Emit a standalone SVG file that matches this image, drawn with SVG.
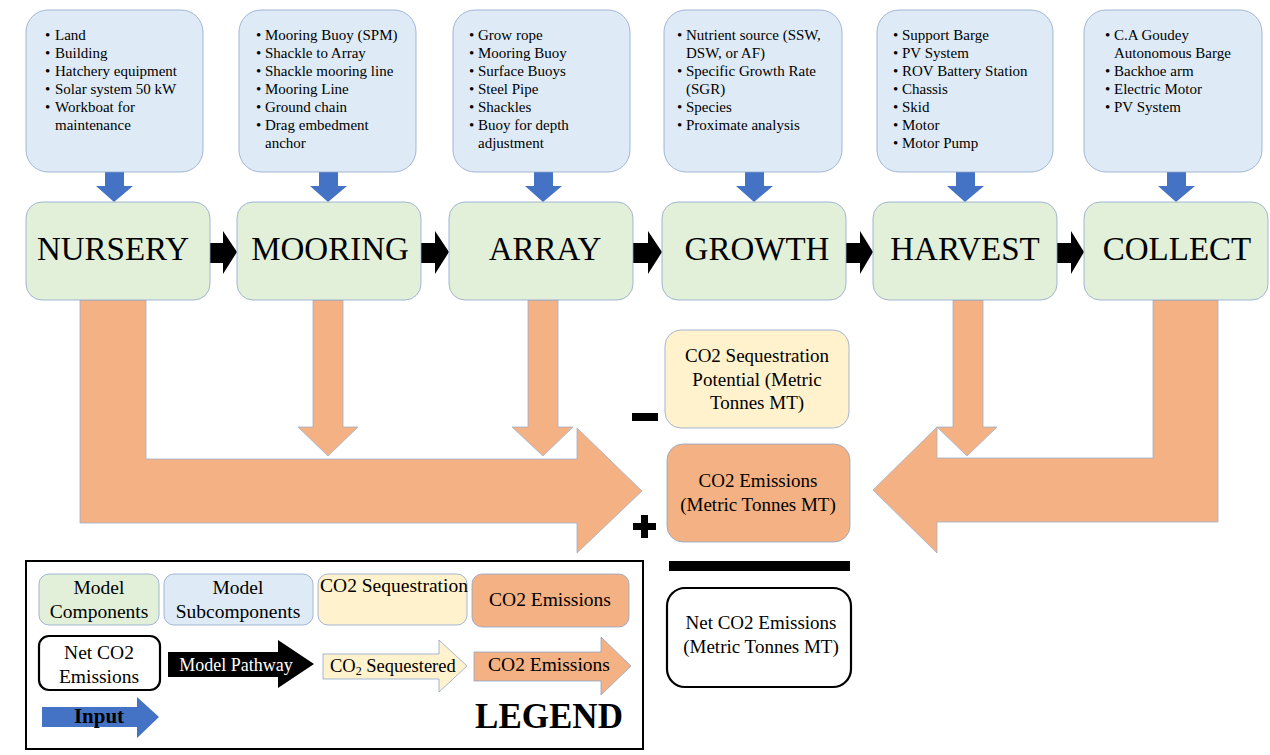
<svg xmlns="http://www.w3.org/2000/svg" width="1270" height="755" viewBox="0 0 1270 755" font-family="'Liberation Serif', Tinos, 'DejaVu Serif', serif">
<style>
text{font-family:'Liberation Serif',Tinos,'DejaVu Serif',serif;fill:#000}
.sub{fill:#DEEBF7;stroke:#8EA5CC;stroke-width:0.8}
.comp{fill:#E2F0D9;stroke:#8EA5CC;stroke-width:0.8}
.seq{fill:#FFF2CC;stroke:#8EA5CC;stroke-width:0.8}
.emi{fill:#F4B183;stroke:#8EA5CC;stroke-width:0.8}
.net{fill:#fff;stroke:#000;stroke-width:2.2}
.li{font-size:15px}
.big{font-size:33px;text-anchor:middle}
.mid{font-size:19px;text-anchor:middle}
.leg{font-size:19.5px;text-anchor:middle}
.inp{fill:#4472C4}
.path{fill:#000}
.oarr{fill:#F4B183;stroke:#9FB0CF;stroke-width:0.8}
</style>

<g id="connectors">
  <polygon class="inp" points="105,172 124,172 124,186 133,186 114,202 96,186 105,186"/>
  <polygon class="inp" points="319,172 338,172 338,186 347,186 328,202 310,186 319,186"/>
  <polygon class="inp" points="534,172 553,172 553,186 562,186 543,202 525,186 534,186"/>
  <polygon class="inp" points="745,172 764,172 764,186 773,186 754,202 736,186 745,186"/>
  <polygon class="inp" points="956,172 975,172 975,186 984,186 965,202 947,186 956,186"/>
  <polygon class="inp" points="1167,172 1186,172 1186,186 1195,186 1176,202 1158,186 1167,186"/>
  <polygon class="path" points="210,243 223,243 223,231 237,252 223,274 223,263 210,263"/>
  <polygon class="path" points="421,243 435,243 435,231 449,252 435,274 435,263 421,263"/>
  <polygon class="path" points="633,243 648,243 648,231 662,252 648,274 648,263 633,263"/>
  <polygon class="path" points="846,243 860,243 860,231 873,252 860,274 860,263 846,263"/>
  <polygon class="path" points="1057,243 1071,243 1071,231 1084,252 1071,274 1071,263 1057,263"/>
  <polygon class="oarr" points="80,300 146,300 146,459 577,459 577,428 642,491 577,553 577,523 80,523"/>
  <polygon class="oarr" points="1153,300 1218,300 1218,522 937,522 937,553 873,490 937,427 937,458 1153,458"/>
  <polygon class="oarr" points="313,300 343,300 343,427 358,427 328,456 298,427 313,427"/>
  <polygon class="oarr" points="528,300 558,300 558,427 573,427 543,456 512,427 528,427"/>
  <polygon class="oarr" points="953,300 983,300 983,427 997,427 967,456 937,427 953,427"/>
</g>

<g id="sub-nursery">
  <rect class="sub" x="26" y="10" width="177" height="162" rx="22"/>
  <g class="li">
    <text x="45" y="40">•</text><text x="55" y="40">Land</text>
    <text x="45" y="58">•</text><text x="55" y="58">Building</text>
    <text x="45" y="76">•</text><text x="55" y="76">Hatchery equipment</text>
    <text x="45" y="94">•</text><text x="55" y="94">Solar system 50 kW</text>
    <text x="45" y="112">•</text><text x="55" y="112">Workboat for</text>
    <text x="55" y="130">maintenance</text>
  </g>
</g>
<g id="sub-mooring">
  <rect class="sub" x="239" y="10" width="177" height="162" rx="22"/>
  <g class="li">
    <text x="256" y="40">•</text><text x="265" y="40">Mooring Buoy (SPM)</text>
    <text x="256" y="58">•</text><text x="265" y="58">Shackle to Array</text>
    <text x="256" y="76">•</text><text x="265" y="76">Shackle mooring line</text>
    <text x="256" y="94">•</text><text x="265" y="94">Mooring Line</text>
    <text x="256" y="112">•</text><text x="265" y="112">Ground chain</text>
    <text x="256" y="130">•</text><text x="265" y="130">Drag embedment</text>
    <text x="265" y="148">anchor</text>
  </g>
</g>
<g id="sub-array">
  <rect class="sub" x="453" y="10" width="177" height="162" rx="22"/>
  <g class="li">
    <text x="469" y="40">•</text><text x="478" y="40">Grow rope</text>
    <text x="469" y="58">•</text><text x="478" y="58">Mooring Buoy</text>
    <text x="469" y="76">•</text><text x="478" y="76">Surface Buoys</text>
    <text x="469" y="94">•</text><text x="478" y="94">Steel Pipe</text>
    <text x="469" y="112">•</text><text x="478" y="112">Shackles</text>
    <text x="469" y="130">•</text><text x="478" y="130">Buoy for depth</text>
    <text x="478" y="148">adjustment</text>
  </g>
</g>
<g id="sub-growth">
  <rect class="sub" x="664" y="10" width="178" height="162" rx="22"/>
  <g class="li">
    <text x="677" y="40">•</text><text x="686" y="40">Nutrient source (SSW,</text>
    <text x="686" y="58">DSW, or AF)</text>
    <text x="677" y="76">•</text><text x="686" y="76">Specific Growth Rate</text>
    <text x="686" y="94">(SGR)</text>
    <text x="677" y="112">•</text><text x="686" y="112">Species</text>
    <text x="677" y="130">•</text><text x="686" y="130">Proximate analysis</text>
  </g>
</g>
<g id="sub-harvest">
  <rect class="sub" x="877" y="10" width="176" height="162" rx="22"/>
  <g class="li">
    <text x="893" y="40">•</text><text x="902" y="40">Support Barge</text>
    <text x="893" y="58">•</text><text x="902" y="58">PV System</text>
    <text x="893" y="76">•</text><text x="902" y="76">ROV Battery Station</text>
    <text x="893" y="94">•</text><text x="902" y="94">Chassis</text>
    <text x="893" y="112">•</text><text x="902" y="112">Skid</text>
    <text x="893" y="130">•</text><text x="902" y="130">Motor</text>
    <text x="893" y="148">•</text><text x="902" y="148">Motor Pump</text>
  </g>
</g>
<g id="sub-collect">
  <rect class="sub" x="1084" y="10" width="178" height="162" rx="22"/>
  <g class="li">
    <text x="1105" y="40">•</text><text x="1114" y="40">C.A Goudey</text>
    <text x="1114" y="58">Autonomous Barge</text>
    <text x="1105" y="76">•</text><text x="1114" y="76">Backhoe arm</text>
    <text x="1105" y="94">•</text><text x="1114" y="94">Electric Motor</text>
    <text x="1105" y="112">•</text><text x="1114" y="112">PV System</text>
  </g>
</g>

<g id="nursery"><rect class="comp" x="26" y="202" width="184" height="98" rx="16"/><text class="big" x="113" y="260">NURSERY</text></g>
<g id="mooring"><rect class="comp" x="237" y="202" width="184" height="98" rx="16"/><text class="big" x="330" y="260">MOORING</text></g>
<g id="array"><rect class="comp" x="449" y="202" width="184" height="98" rx="16"/><text class="big" x="545" y="260">ARRAY</text></g>
<g id="growth"><rect class="comp" x="662" y="202" width="184" height="98" rx="16"/><text class="big" x="757" y="260">GROWTH</text></g>
<g id="harvest"><rect class="comp" x="873" y="202" width="184" height="98" rx="16"/><text class="big" x="965" y="260">HARVEST</text></g>
<g id="collect"><rect class="comp" x="1084" y="202" width="184" height="98" rx="16"/><text class="big" x="1177" y="260">COLLECT</text></g>

<g id="sequestration">
  <rect class="seq" x="665" y="330" width="184" height="98" rx="16"/>
  <text class="mid" x="757" y="362">CO2 Sequestration</text>
  <text class="mid" x="757" y="386">Potential (Metric</text>
  <text class="mid" x="757" y="409">Tonnes MT)</text>
</g>
<rect id="minus" x="632" y="413" width="26" height="8" fill="#000"/>
<g id="emissions">
  <rect class="emi" x="667" y="444" width="183" height="98" rx="16"/>
  <text class="mid" x="758" y="487">CO2 Emissions</text>
  <text class="mid" x="758" y="511">(Metric Tonnes MT)</text>
</g>
<g id="plus" fill="#000">
  <rect x="633" y="523" width="23" height="7"/>
  <rect x="641" y="515" width="7" height="23"/>
</g>
<rect id="bar" x="669" y="561" width="181" height="10" fill="#000"/>
<g id="net">
  <rect class="net" x="667" y="588" width="184" height="99" rx="18"/>
  <text class="mid" x="761" y="629">Net CO2 Emissions</text>
  <text class="mid" x="761" y="653">(Metric Tonnes MT)</text>
</g>

<g id="legend">
  <rect x="26" y="561" width="617" height="188" fill="#fff" stroke="#000" stroke-width="2"/>
  <rect class="comp" x="39" y="574" width="120" height="51" rx="10"/>
  <text class="leg" x="99" y="594">Model</text>
  <text class="leg" x="99" y="618">Components</text>
  <rect class="sub" x="164" y="574" width="149" height="51" rx="10"/>
  <text class="leg" x="238" y="594">Model</text>
  <text class="leg" x="238" y="618">Subcomponents</text>
  <rect class="seq" x="318" y="574" width="149" height="51" rx="10"/>
  <text class="leg" x="394" y="592">CO2 Sequestration</text>
  <rect class="emi" x="472" y="574" width="157" height="53" rx="10"/>
  <text class="leg" x="550" y="606">CO2 Emissions</text>
  <rect class="net" x="39" y="636" width="121" height="54" rx="10"/>
  <text class="leg" x="99" y="659">Net CO2</text>
  <text class="leg" x="99" y="683">Emissions</text>
  <polygon class="path" points="168,652 278,652 278,640 314,664 278,688 278,677 168,677"/>
  <text x="236" y="671" font-size="18" text-anchor="middle" style="fill:#fff">Model Pathway</text>
  <polygon class="seq" points="323,654 439,654 439,640 467,666 439,692 439,679 323,679"/>
  <text x="330" y="672" font-size="18.5">CO<tspan font-size="12" dy="3">2</tspan><tspan dy="-3"> Sequestered</tspan></text>
  <polygon class="emi" points="474,652 601,652 601,637 631,666 601,695 601,681 474,681"/>
  <text class="leg" x="549" y="671">CO2 Emissions</text>
  <polygon class="inp" points="42,707 137,707 137,697 159,717 137,738 137,727 42,727"/>
  <text x="99" y="723" font-size="21" font-weight="bold" text-anchor="middle">Input</text>
  <text x="549" y="728" font-size="35" font-weight="bold" text-anchor="middle">LEGEND</text>
</g>
</svg>
